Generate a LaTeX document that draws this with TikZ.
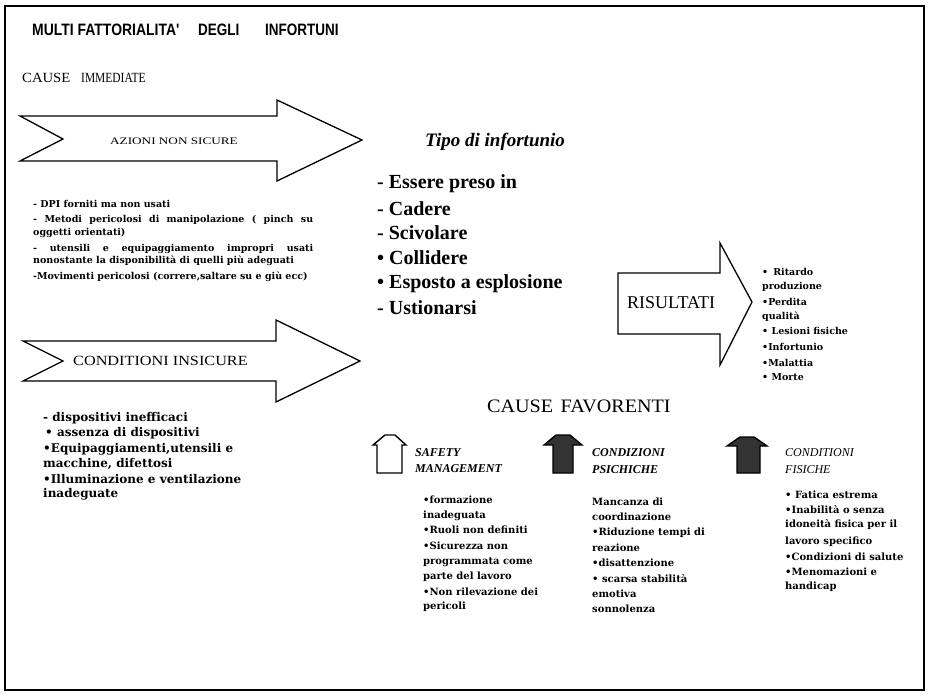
\documentclass[tikz,border=0pt]{standalone}
\usepackage{graphicx}
\usepackage{fontspec}
\setmainfont{Liberation Serif}
\newfontfamily\titlefont{Liberation Sans}
\newfontfamily\heavyfont{DejaVu Serif}
\begin{document}
\begin{tikzpicture}[x=1pt,y=-1pt,
  tx/.style={anchor=west, inner sep=0pt},
  bigarrow/.style={draw=black, line width=1.3pt, line join=miter, fill=white},
  uparrow/.style={draw=black, line width=1.4pt, line join=miter},
  ttl/.style={tx, font=\titlefont\bfseries\fontsize{15}{15}\selectfont},
  lstA/.style={tx, font=\heavyfont\bfseries\fontsize{9.5}{11}\selectfont},
  lstB/.style={tx, font=\heavyfont\bfseries\fontsize{12}{14}\selectfont},
  lstT/.style={tx, font=\bfseries\fontsize{20}{22}\selectfont},
  lstR/.style={tx, font=\heavyfont\bfseries\fontsize{9.5}{10}\selectfont},
  lstS/.style={tx, font=\heavyfont\bfseries\fontsize{10}{12}\selectfont},
  hdS/.style={tx, font=\bfseries\itshape\fontsize{12}{13}\selectfont},
]
\useasboundingbox (0,0) rectangle (928,696);
\draw[line width=1.2pt] (5,6) rectangle (924,690);

% title
\node[ttl] (t1) at (32,30) {\scalebox{0.93}[1.1]{MULTI FATTORIALITA'}};
\node[ttl] (t2) at (198,30) {\scalebox{0.9}[1.1]{DEGLI}};
\node[ttl] (t3) at (265,30) {\scalebox{0.9}[1.1]{INFORTUNI}};

\node[tx, font=\fontsize{14}{15}\selectfont] (c1) at (22,78) {\scalebox{1.05}[1]{CAUSE}};
\node[tx, font=\fontsize{14}{15}\selectfont] (c2) at (81,78) {\scalebox{0.82}[1]{IMMEDIATE}};

% arrow 1
\draw[bigarrow] (20,116) -- (277,116) -- (277,100) -- (362,140) -- (277,181) -- (277,161) -- (20,161) -- (63,139) -- cycle;
\node[tx, font=\fontsize{10}{11}\selectfont] (a1) at (110,141) {\scalebox{1.32}[1]{AZIONI NON SICURE}};

% list 1
\node[lstA] (l1) at (33,204) {- DPI forniti ma non usati};
\node[lstA] (l2) at (33,220) {\makebox[280pt][s]{- Metodi pericolosi di manipolazione ( pinch su}};
\node[lstA] (l3) at (33,233) {oggetti orientati)};
\node[lstA] (l4) at (33,249) {\makebox[280pt][s]{- utensili e equipaggiamento impropri usati}};
\node[lstA] (l5) at (33,261) {nonostante la disponibilità di quelli più adeguati};
\node[lstA] (l6) at (33,277) {-Movimenti pericolosi (correre,saltare su e giù ecc)};

% arrow 2
\draw[bigarrow] (23,341) -- (276,341) -- (276,320) -- (360,361) -- (276,402) -- (276,381) -- (23,381) -- (63,361) -- cycle;
\node[tx, font=\fontsize{14}{15}\selectfont] (a2) at (73,361) {\scalebox{1.16}[1]{CONDITIONI INSICURE}};

% list 2
\node[lstB] (m1) at (43,418) {- dispositivi inefficaci};
\node[lstB] (m2) at (45,433) {• assenza di dispositivi};
\node[lstB] (m3) at (43,449) {•Equipaggiamenti,utensili e};
\node[lstB] (m4) at (43,464) {macchine, difettosi};
\node[lstB] (m5) at (43,479) {•Illuminazione e ventilazione};
\node[lstB] (m6) at (43,494) {inadeguate};

% tipo di infortunio
\node[tx, font=\bfseries\itshape\fontsize{19}{21}\selectfont] (tp) at (425,142) {Tipo di infortunio};
\node[lstT] (p1) at (377,184) {- Essere preso in};
\node[lstT] (p2) at (377,209) {- Cadere};
\node[lstT] (p3) at (377,233) {- Scivolare};
\node[lstT] (p4) at (377,258) {• Collidere};
\node[lstT] (p5) at (377,284) {• Esposto a esplosione};
\node[lstT] (p6) at (377,308) {- Ustionarsi};

% risultati
\draw[bigarrow] (618,273) -- (720,273) -- (720,243) -- (752,302) -- (720,365) -- (720,334) -- (618,334) -- cycle;
\node[tx, font=\fontsize{18}{19}\selectfont] (rs) at (627,303) {RISULTATI};
\node[lstR] (r1) at (762,272) {•\hspace{5pt}Ritardo};
\node[lstR] (r2) at (762,287) {produzione};
\node[lstR] (r3) at (762,302) {•Perdita};
\node[lstR] (r4) at (762,317) {qualità};
\node[lstR] (r5) at (762,331) {• Lesioni fisiche};
\node[lstR] (r6) at (762,347) {•Infortunio};
\node[lstR] (r7) at (762,363) {•Malattia};
\node[lstR] (r8) at (762,377) {• Morte};

% cause favorenti
\node[tx, font=\fontsize{19}{21}\selectfont] (cf) at (487,406) {\scalebox{1.06}[1]{CAUSE\hspace{7pt}FAVORENTI}};

% up arrows
\draw[uparrow, fill=white] (377,473) -- (377,445) -- (373,445) -- (385,435) -- (395,435) -- (406,445) -- (402,445) -- (402,473) -- cycle;
\draw[uparrow, fill=black!80] (553,473) -- (553,445) -- (544,445) -- (556,435) -- (570,435) -- (582,445) -- (573,445) -- (573,473) -- cycle;
\draw[uparrow, fill=black!80] (737,473) -- (737,446) -- (727,446) -- (740,437) -- (754,437) -- (767,446) -- (760,446) -- (760,473) -- cycle;

% safety management
\node[hdS] (s0) at (415,453) {SAFETY};
\node[hdS] (s00) at (415,469) {MANAGEMENT};
\node[lstS] (s1) at (423,500) {•formazione};
\node[lstS] (s2) at (423,516) {inadeguata};
\node[lstS] (s3) at (423,530) {•Ruoli non definiti};
\node[lstS] (s4) at (423,546) {•Sicurezza non};
\node[lstS] (s5) at (423,562) {programmata come};
\node[lstS] (s6) at (423,577) {parte del lavoro};
\node[lstS] (s7) at (423,592) {•Non rilevazione dei};
\node[lstS] (s8) at (423,607) {pericoli};

% condizioni psichiche
\node[hdS] (q0) at (592,453) {CONDIZIONI};
\node[hdS] (q00) at (592,470) {PSICHICHE};
\node[lstS] (q1) at (592,502) {Mancanza di};
\node[lstS] (q2) at (592,517) {coordinazione};
\node[lstS] (q3) at (592,533) {•Riduzione tempi di};
\node[lstS] (q4) at (592,548) {reazione};
\node[lstS] (q5) at (592,563) {•disattenzione};
\node[lstS] (q6) at (592,579) {• scarsa stabilità};
\node[lstS] (q7) at (592,594) {emotiva};
\node[lstS] (q8) at (592,609) {sonnolenza};

% condizioni fisiche
\node[hdS, font=\itshape\fontsize{12}{13}\selectfont] (f0) at (785,453) {CONDITIONI};
\node[hdS, font=\itshape\fontsize{12}{13}\selectfont] (f00) at (785,470) {FISICHE};
\node[lstS] (f1) at (785,495) {• Fatica estrema};
\node[lstS] (f2) at (785,510) {•Inabilità o senza};
\node[lstS] (f3) at (785,525) {idoneità fisica per il};
\node[lstS] (f4) at (785,542) {lavoro specifico};
\node[lstS] (f5) at (785,557) {•Condizioni di salute};
\node[lstS] (f6) at (785,572) {•Menomazioni e};
\node[lstS] (f7) at (785,587) {handicap};
\end{tikzpicture}
\end{document}
